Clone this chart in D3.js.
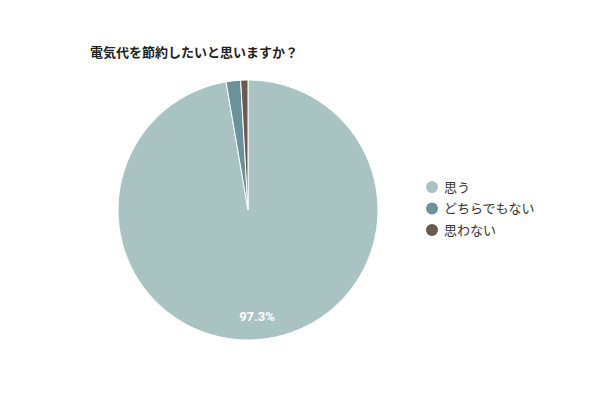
<!DOCTYPE html>
<html>
<head>
<meta charset="utf-8">
<script src="https://cdn.jsdelivr.net/npm/d3@7"></script>
<style>
  body { margin: 0; background: #fff; }
  svg { font-family: "Noto Sans CJK JP", "Noto Sans", sans-serif; }
</style>
</head>
<body>
<div id="chart"></div>
<script>
const title = "電気代を節約したいと思いますか？";
const categories = ["思う", "どちらでもない", "思わない"];
const values = [97.3, 1.8, 0.9];
const colors = ["#a9c3c3", "#6a9298", "#6a5a52"];

const W = 600, H = 400;
const cx = 248, cy = 210, R = 130;

const svg = d3.select("#chart").append("svg")
    .attr("width", W)
    .attr("height", H);

svg.append("text")
    .attr("x", 90)
    .attr("y", 57)
    .attr("font-size", 13)
    .attr("font-weight", "bold")
    .attr("fill", "#222")
    .text(title);

const color = d3.scaleOrdinal().domain(categories).range(colors);

const pie = d3.pie().sort(null).value(d => d.value);
const arcs = pie(categories.map((c, i) => ({ name: c, value: values[i] })));

const arc = d3.arc().innerRadius(0).outerRadius(R);
const labelArc = d3.arc().innerRadius(R * 0.82).outerRadius(R * 0.82);

const g = svg.append("g").attr("transform", `translate(${cx},${cy})`);

g.selectAll("path")
    .data(arcs)
    .enter()
    .append("path")
    .attr("d", arc)
    .attr("fill", d => color(d.data.name))
    .attr("stroke", "#fff")
    .attr("stroke-width", 1);

// only the big slice gets a label
g.selectAll(".lbl")
    .data(arcs.filter(d => d.data.value > 10))
    .enter()
    .append("text")
    .attr("class", "lbl")
    .attr("transform", d => `translate(${labelArc.centroid(d)})`)
    .attr("text-anchor", "middle")
    .attr("dy", "0.35em")
    .attr("font-size", 13)
    .attr("font-weight", "bold")
    .attr("font-family", "Roboto, sans-serif")
    .attr("fill", "#fff")
    .text(d => d.data.value + "%");

const legendY = d3.scalePoint().domain(categories).range([187, 230]);

const legend = svg.append("g");
const item = legend.selectAll("g")
    .data(categories)
    .enter()
    .append("g")
    .attr("transform", d => `translate(432,${legendY(d)})`);

item.append("circle")
    .attr("r", 6)
    .attr("fill", d => color(d));

item.append("text")
    .attr("x", 12)
    .attr("dy", "0.35em")
    .attr("font-size", 13)
    .attr("fill", "#333")
    .text(d => d);
</script>
</body>
</html>
